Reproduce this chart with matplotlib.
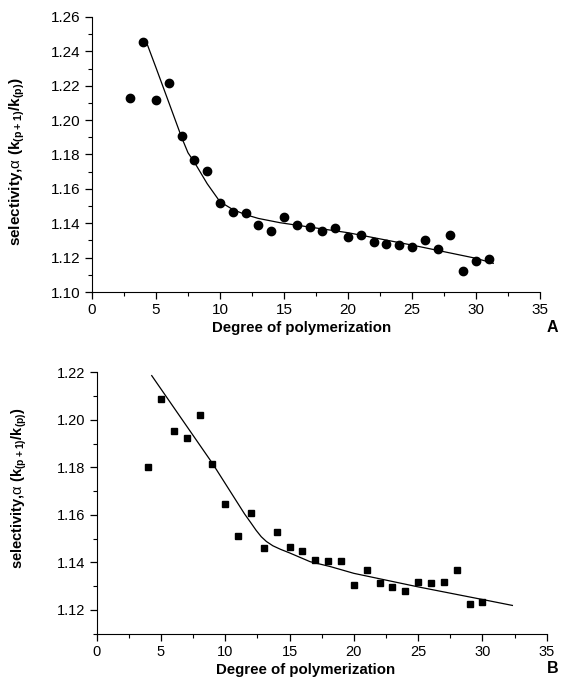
import matplotlib
matplotlib.use("Agg")
from matplotlib import pyplot as plt
from matplotlib.ticker import MultipleLocator

plt.rcParams['font.family'] = ['Liberation Sans', 'DejaVu Sans']
plt.rcParams['mathtext.fontset'] = 'custom'
plt.rcParams['mathtext.rm'] = 'Liberation Sans'
plt.rcParams['mathtext.bf'] = 'Liberation Sans:bold'

# panel A - measured points (circles) and fitted curve
dp_a = [3, 4, 5, 6, 7, 8, 9, 10, 11, 12, 13, 14, 15, 16, 17, 18, 19, 20,
        21, 22, 23, 24, 25, 26, 27, 28, 29, 30, 31]
sel_a = [1.213, 1.2456, 1.2117, 1.2214, 1.1908, 1.1766, 1.1706, 1.1518,
         1.1467, 1.1461, 1.1392, 1.1357, 1.1436, 1.1388, 1.138, 1.1357,
         1.1372, 1.1318, 1.133, 1.1289, 1.1281, 1.1273, 1.126, 1.1303,
         1.1249, 1.1332, 1.1122, 1.118, 1.1192]
fit_x_a = [4.27, 5, 6, 7, 7.5, 8, 9, 10, 11, 12, 13, 14.7, 20, 25, 30, 31.35]
fit_y_a = [1.245, 1.2305, 1.2103, 1.19, 1.181, 1.1755, 1.163, 1.1525,
           1.148, 1.145, 1.1428, 1.1403, 1.1345, 1.1273, 1.1196, 1.1167]

# panel B - measured points (squares) and fitted curve
dp_b = [4, 5, 6, 7, 8, 9, 10, 11, 12, 13, 14, 15, 16, 17, 18, 19, 20, 21,
        22, 23, 24, 25, 26, 27, 28, 29, 30]
sel_b = [1.1803, 1.2086, 1.1954, 1.1924, 1.2019, 1.1813, 1.1647, 1.1511,
         1.1609, 1.146, 1.1529, 1.1465, 1.1446, 1.141, 1.1404, 1.1408,
         1.1305, 1.1368, 1.1313, 1.1298, 1.1279, 1.1316, 1.1312, 1.1316,
         1.1369, 1.1226, 1.1233]
fit_x_b = [4.28, 9, 11.5, 12.0, 12.4, 12.8, 13.2, 13.7, 14.3, 15, 16.6,
           18.2, 20, 25, 30, 32.33]
fit_y_b = [1.2186, 1.1817, 1.1604, 1.1566, 1.1535, 1.1508, 1.1488, 1.147,
           1.1455, 1.144, 1.1403, 1.1382, 1.1354, 1.1297, 1.1244, 1.1219]

ylabel = r'selectivity,$\mathrm{\alpha}$ (k$_{\mathbf{(p+1)}}$/k$_{\mathbf{(p)}}$)'
xlabel = 'Degree of polymerization'

fig = plt.figure(figsize=(5.62, 6.79), dpi=100)
W, H = 562, 679

def px_axes(l, t, r, b):
    return fig.add_axes([l / W, 1 - b / H, (r - l) / W, (b - t) / H])

def style(ax, ylim, ylab_size, tick_size):
    ax.set_xlim(0, 35)
    ax.set_ylim(*ylim)
    ax.spines['top'].set_visible(False)
    ax.spines['right'].set_visible(False)
    ax.xaxis.set_major_locator(MultipleLocator(5))
    ax.xaxis.set_minor_locator(MultipleLocator(2.5))
    ax.yaxis.set_major_locator(MultipleLocator(0.02))
    ax.yaxis.set_minor_locator(MultipleLocator(0.01))
    ax.tick_params(which='major', length=5, width=0.9, labelsize=tick_size, pad=3)
    ax.tick_params(which='minor', length=3, width=0.8)
    ax.yaxis.set_major_formatter(lambda v, p: '%.2f' % v)
    ax.set_ylabel(ylabel, fontsize=ylab_size, fontweight='bold')
    ax.set_xlabel(xlabel, fontsize=10.8, fontweight='bold', va='baseline')

# A
ax1 = px_axes(92, 17, 540, 292)
ax1.plot(dp_a, sel_a, 'o', color='black', markersize=6)
ax1.plot(fit_x_a, fit_y_a, '-', color='black', lw=0.9)
style(ax1, (1.10, 1.26), 11, 11)
ax1.xaxis.set_label_coords((301.5 - 92) / 448, (292 - 332) / 275)
ax1.yaxis.set_label_coords((27 - 92) / 448, (292 - 162) / 275)
fig.text(552 / W, 1 - 332 / H, 'A', fontsize=11.5, fontweight='bold',
         ha='center', va='baseline')

# B
ax2 = px_axes(96.7, 372.3, 546.7, 633.7)
ax2.plot(dp_b, sel_b, 's', color='black', markersize=5)
ax2.plot(fit_x_b, fit_y_b, '-', color='black', lw=0.9)
style(ax2, (1.11, 1.22), 10.5, 10.5)
ax2.xaxis.set_label_coords((306 - 96.7) / 450, (633.7 - 674) / 261.4)
ax2.yaxis.set_label_coords((29.5 - 96.7) / 450, (633.7 - 488) / 261.4)
fig.text(553 / W, 1 - 673 / H, 'B', fontsize=11.5, fontweight='bold',
         ha='center', va='baseline')

fig.savefig("out.png", dpi=100)
